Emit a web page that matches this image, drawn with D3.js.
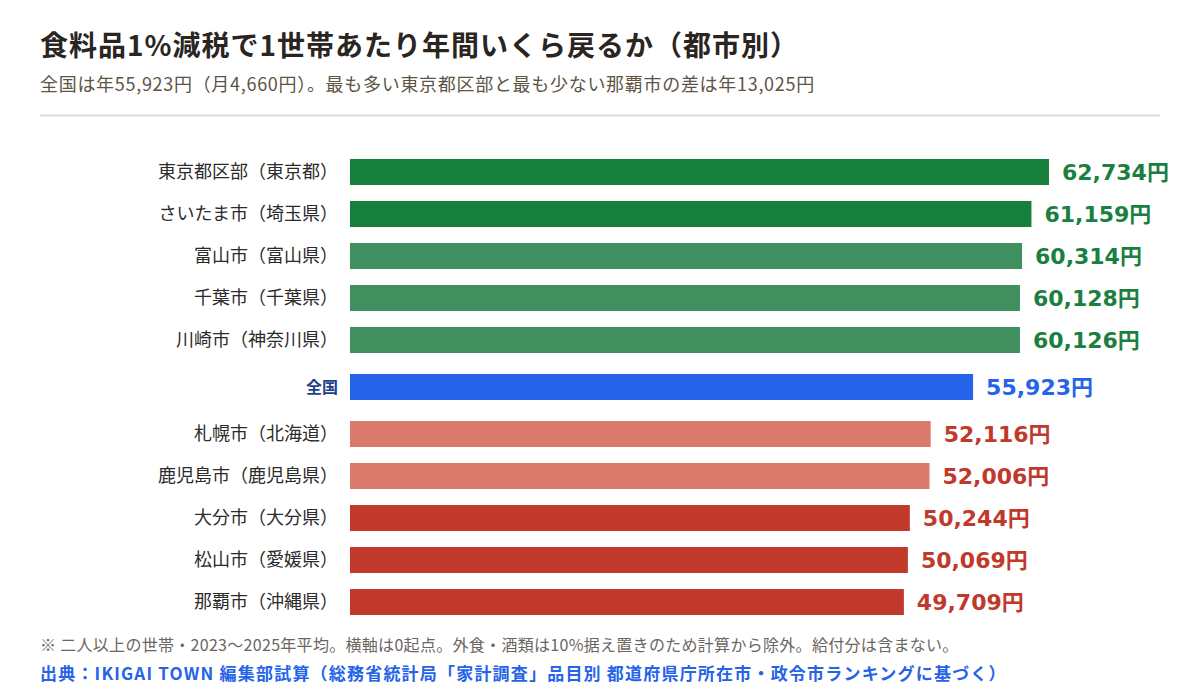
<!DOCTYPE html>
<html lang="ja">
<head>
<meta charset="utf-8">
<script src="https://cdn.jsdelivr.net/npm/d3@7"></script>
<style>
  html, body { margin: 0; padding: 0; background: #ffffff; }
  svg { display: block; }
  .val { font-family: "DejaVu Sans", "Noto Sans CJK JP", sans-serif; font-weight: 700; font-size: 22px; }
</style>
</head>
<body>
<svg id="chart" width="1200" height="700"></svg>
<script>
const categories = [
  "東京都区部（東京都）",
  "さいたま市（埼玉県）",
  "富山市（富山県）",
  "千葉市（千葉県）",
  "川崎市（神奈川県）",
  "全国",
  "札幌市（北海道）",
  "鹿児島市（鹿児島県）",
  "大分市（大分県）",
  "松山市（愛媛県）",
  "那覇市（沖縄県）"
];
const values = [62734, 61159, 60314, 60128, 60126, 55923, 52116, 52006, 50244, 50069, 49709];
const groups = ["top", "top", "high", "high", "high", "national", "low", "low", "bottom", "bottom", "bottom"];

const titleText = "食料品1%減税で1世帯あたり年間いくら戻るか（都市別）";
const subtitleText = "全国は年55,923円（月4,660円）。最も多い東京都区部と最も少ない那覇市の差は年13,025円";
const noteText = "※ 二人以上の世帯・2023〜2025年平均。横軸は0起点。外食・酒類は10%据え置きのため計算から除外。給付分は含まない。";
const sourceText = "出典：IKIGAI TOWN 編集部試算（総務省統計局「家計調査」品目別 都道府県庁所在市・政令市ランキングに基づく）";

const barColor = { top: "#177f3c", high: "#3f8f5f", national: "#2563e8", low: "#d97a6d", bottom: "#c0392b" };
const textColor = { top: "#1a7f40", high: "#1a7f40", national: "#2563e8", low: "#c0392b", bottom: "#c0392b" };

const svg = d3.select("#chart");
const CJK = "'Noto Sans CJK JP', 'Noto Sans', sans-serif";

// Header
svg.append("text").attr("x", 40).attr("y", 56)
  .attr("font-family", CJK).attr("font-weight", 700).attr("font-size", 28)
  .attr("letter-spacing", 1)
  .attr("fill", "#2a251f").text(titleText);
svg.append("text").attr("x", 40).attr("y", 91)
  .attr("font-family", CJK).attr("font-size", 18)
  .attr("letter-spacing", 0.7)
  .attr("fill", "#5e5443").text(subtitleText);
svg.append("line").attr("x1", 40).attr("x2", 1160).attr("y1", 115.5).attr("y2", 115.5)
  .attr("stroke", "#e4ded2").attr("stroke-width", 2);

// Scales
const x = d3.scaleLinear().domain([0, 62734]).range([350, 1049]);
const yBand = d3.scaleBand().domain(d3.range(categories.length)).range([151, 151 + 42 * categories.length]).paddingInner(0.381).paddingOuter(0.19);
const extra = i => (i >= 5 ? 5 : 0) + (i >= 6 ? 5 : 0);
const yPos = i => yBand(i) + extra(i);
const bh = yBand.bandwidth();

const rows = svg.append("g").selectAll("g").data(values).join("g");

rows.append("rect")
  .attr("x", x(0))
  .attr("y", (d, i) => yPos(i))
  .attr("width", d => x(d) - x(0))
  .attr("height", bh)
  .attr("fill", (d, i) => barColor[groups[i]]);

rows.append("text")
  .attr("x", 338)
  .attr("y", (d, i) => yPos(i) + bh / 2)
  .attr("dy", "0.36em")
  .attr("text-anchor", "end")
  .attr("font-family", CJK)
  .attr("font-size", (d, i) => groups[i] === "national" ? 16 : 18)
  .attr("font-weight", (d, i) => groups[i] === "national" ? 700 : 400)
  .attr("fill", (d, i) => groups[i] === "national" ? "#1e3f8a" : "#2b2b2b")
  .text((d, i) => categories[i]);

const fmt = d3.format(",");
rows.append("text")
  .attr("class", "val")
  .attr("x", d => x(d) + 13)
  .attr("y", (d, i) => yPos(i) + bh / 2)
  .attr("dy", "0.36em")
  .attr("fill", (d, i) => textColor[groups[i]])
  .text(d => fmt(d) + "円");

// Footer
svg.append("text").attr("x", 40).attr("y", 651)
  .attr("font-family", CJK).attr("font-size", 16)
  .attr("letter-spacing", 0.3)
  .attr("fill", "#6b665f").text(noteText);
svg.append("text").attr("x", 40).attr("y", 680)
  .attr("font-family", CJK).attr("font-size", 17).attr("font-weight", 700)
  .attr("letter-spacing", 1.2)
  .attr("fill", "#2563e8").text(sourceText);
</script>
</body>
</html>
